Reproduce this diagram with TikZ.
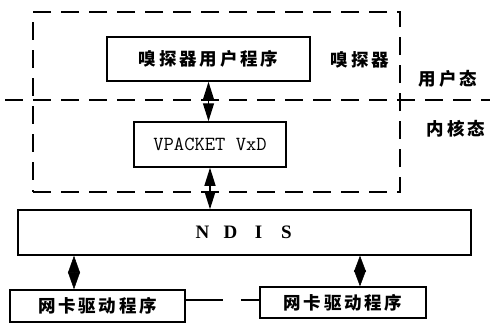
\documentclass[tikz,border=0pt]{standalone}
\usepackage{fontspec}
\setmainfont{Liberation Serif}
\newfontfamily\cjk[LetterSpace=16]{Noto Sans CJK SC}
\usetikzlibrary{arrows.meta}
\begin{document}
\begin{tikzpicture}[x=1pt,y=-1pt,
  box/.style={draw,line width=1.5pt,inner sep=0pt},
  dashline/.style={line width=1.5pt,dash pattern=on 18pt off 10pt},
  dbl/.style={line width=1.3pt,{Triangle[length=18pt,width=11pt]}-{Triangle[length=18pt,width=11pt]}},
  cjkl/.style={font=\cjk\fontsize{17.5}{18}\selectfont\bfseries}]
\useasboundingbox (0,0) rectangle (490,325);
\node[box,dashline,minimum width=367pt,minimum height=180pt] (sniffer) at (216.5,102) {};
\coordinate (hl) at (5,100);
\coordinate (hr) at (490,100);
\draw[dashline] (hl) -- (hr);
\node[box,fill=white,minimum width=203pt,minimum height=44pt,cjkl] (app) at (208.5,59) {嗅探器用户程序};
\node[box,minimum width=152pt,minimum height=45pt,font=\ttfamily\fontsize{20}{21}\selectfont] (vp) at (210,144.5) {VPACKET VxD};
\node[box,minimum width=453pt,minimum height=45pt,font=\fontsize{19}{20}\selectfont\bfseries] (ndis) at (244.5,232.5) {\makebox[28pt]{N}\makebox[28pt]{D}\makebox[28pt]{I}\makebox[28pt]{S}};
\node[box,minimum width=175pt,minimum height=32pt,cjkl] (drvL) at (97.5,306) {网卡驱动程序};
\node[box,minimum width=166pt,minimum height=31pt,cjkl] (drvR) at (343,302.5) {网卡驱动程序};
\node[cjkl] (lsn) at (360,60) {嗅探器};
\node[cjkl] (lus) at (448,79) {用户态};
\node[cjkl] (lker) at (456,129) {内核态};
\draw[dbl] (app.south) -- (app.south |- vp.north);
\draw[dbl] (vp.south) -- (vp.south |- ndis.north);
\coordinate (dL) at (74,0);
\coordinate (dR) at (360,0);
\coordinate (cy) at (0,300);
\draw[dbl,line width=0.5pt,{Triangle[length=17pt,width=12pt]}-{Triangle[length=17pt,width=12pt]}] (ndis.south -| dL) -- (drvL.north -| dL);
\draw[dbl,line width=0.5pt,{Triangle[length=16pt,width=12pt]}-{Triangle[length=16pt,width=12pt]}] (ndis.south -| dR) -- (drvR.north -| dR);
\draw[line width=1.5pt,dash pattern=on 37pt off 18pt] (drvL.east |- cy) -- (drvR.west |- cy);
\end{tikzpicture}
\end{document}
